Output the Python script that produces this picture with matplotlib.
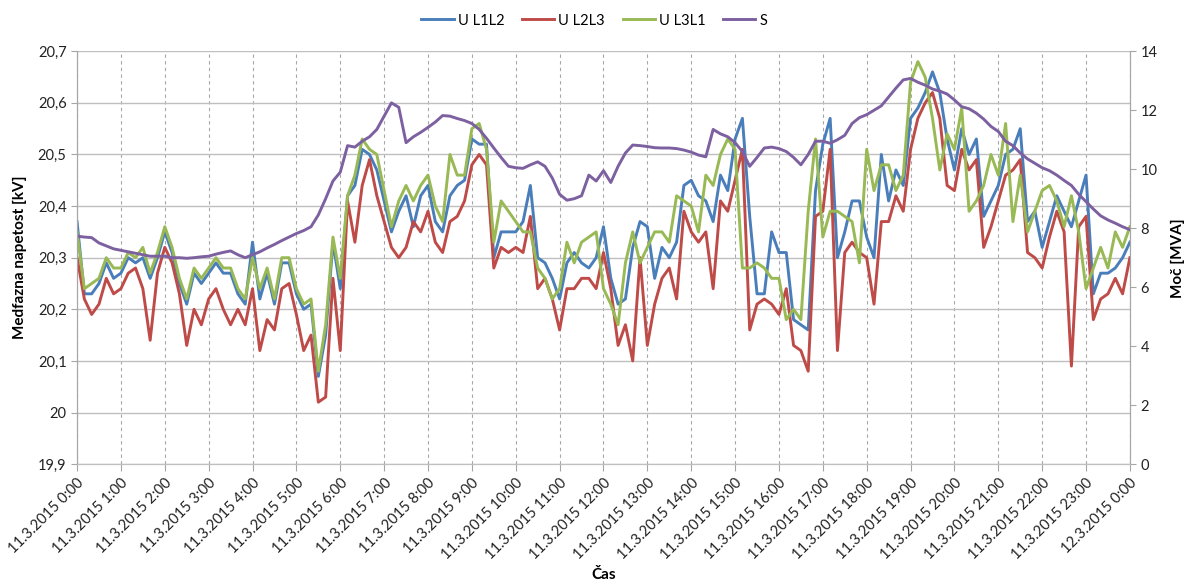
import numpy as np
import matplotlib
matplotlib.use("Agg")
import matplotlib.pyplot as plt
from matplotlib.ticker import FuncFormatter

# ---- data (10-minute samples, 11.3.2015 0:00 .. 12.3.2015 0:00) ----
u_l1l2 = [20.37, 20.23, 20.23, 20.25, 20.29, 20.26, 20.27, 20.30, 20.29, 20.30, 20.26, 20.30,
          20.35, 20.31, 20.25, 20.21, 20.27, 20.25, 20.27, 20.29, 20.27, 20.27, 20.23, 20.21,
          20.33, 20.22, 20.27, 20.21, 20.29, 20.29, 20.23, 20.20, 20.21, 20.07, 20.15, 20.33,
          20.24, 20.42, 20.44, 20.51, 20.50, 20.47, 20.41, 20.35, 20.39, 20.42, 20.36, 20.42,
          20.44, 20.37, 20.35, 20.42, 20.44, 20.45, 20.53, 20.52, 20.52, 20.30, 20.35, 20.35,
          20.35, 20.37, 20.44, 20.30, 20.29, 20.26, 20.22, 20.29, 20.31, 20.29, 20.28, 20.30,
          20.36, 20.26, 20.21, 20.22, 20.32, 20.37, 20.36, 20.26, 20.32, 20.30, 20.33, 20.44,
          20.45, 20.42, 20.41, 20.37, 20.46, 20.43, 20.53, 20.57, 20.38, 20.23, 20.23, 20.35,
          20.31, 20.31, 20.18, 20.17, 20.16, 20.43, 20.52, 20.57, 20.30, 20.35, 20.41, 20.41,
          20.34, 20.30, 20.50, 20.41, 20.47, 20.44, 20.57, 20.59, 20.62, 20.66, 20.62, 20.53,
          20.47, 20.55, 20.50, 20.53, 20.38, 20.41, 20.44, 20.50, 20.51, 20.55, 20.37, 20.39,
          20.32, 20.37, 20.42, 20.39, 20.36, 20.41, 20.46, 20.23, 20.27, 20.27, 20.28, 20.30,
          20.33]
u_l2l3 = [20.30, 20.22, 20.19, 20.21, 20.26, 20.23, 20.24, 20.27, 20.28, 20.24, 20.14, 20.27,
          20.32, 20.29, 20.23, 20.13, 20.20, 20.17, 20.22, 20.24, 20.20, 20.17, 20.20, 20.17,
          20.24, 20.12, 20.18, 20.16, 20.24, 20.25, 20.19, 20.12, 20.15, 20.02, 20.03, 20.26,
          20.12, 20.41, 20.33, 20.44, 20.49, 20.42, 20.37, 20.32, 20.30, 20.32, 20.37, 20.35,
          20.39, 20.33, 20.31, 20.37, 20.38, 20.41, 20.48, 20.50, 20.48, 20.28, 20.32, 20.31,
          20.32, 20.31, 20.38, 20.24, 20.26, 20.22, 20.16, 20.24, 20.24, 20.26, 20.26, 20.24,
          20.31, 20.24, 20.13, 20.17, 20.10, 20.30, 20.13, 20.21, 20.26, 20.28, 20.22, 20.39,
          20.35, 20.33, 20.35, 20.24, 20.41, 20.39, 20.45, 20.51, 20.16, 20.21, 20.22, 20.21,
          20.19, 20.24, 20.13, 20.12, 20.08, 20.38, 20.39, 20.51, 20.12, 20.31, 20.33, 20.31,
          20.30, 20.21, 20.37, 20.37, 20.42, 20.39, 20.51, 20.57, 20.60, 20.62, 20.57, 20.44,
          20.43, 20.51, 20.47, 20.49, 20.32, 20.36, 20.41, 20.46, 20.47, 20.49, 20.31, 20.30,
          20.28, 20.34, 20.39, 20.35, 20.09, 20.36, 20.38, 20.18, 20.22, 20.23, 20.26, 20.23,
          20.30]
u_l3l1 = [20.35, 20.24, 20.25, 20.26, 20.30, 20.28, 20.28, 20.31, 20.30, 20.32, 20.27, 20.31,
          20.36, 20.32, 20.26, 20.22, 20.28, 20.26, 20.28, 20.30, 20.28, 20.28, 20.24, 20.22,
          20.30, 20.24, 20.28, 20.22, 20.30, 20.30, 20.24, 20.21, 20.22, 20.08, 20.17, 20.34,
          20.26, 20.42, 20.46, 20.53, 20.51, 20.50, 20.43, 20.36, 20.41, 20.44, 20.41, 20.44,
          20.46, 20.40, 20.37, 20.50, 20.46, 20.46, 20.55, 20.56, 20.51, 20.33, 20.41, 20.39,
          20.37, 20.35, 20.35, 20.28, 20.26, 20.22, 20.24, 20.33, 20.29, 20.33, 20.34, 20.35,
          20.24, 20.21, 20.17, 20.29, 20.35, 20.29, 20.32, 20.35, 20.35, 20.33, 20.42, 20.41,
          20.40, 20.35, 20.46, 20.44, 20.50, 20.53, 20.51, 20.28, 20.28, 20.29, 20.28, 20.26,
          20.26, 20.18, 20.20, 20.18, 20.39, 20.53, 20.34, 20.39, 20.39, 20.38, 20.37, 20.29,
          20.51, 20.43, 20.48, 20.48, 20.43, 20.46, 20.64, 20.68, 20.65, 20.57, 20.47, 20.54,
          20.51, 20.59, 20.39, 20.41, 20.44, 20.50, 20.46, 20.56, 20.37, 20.46, 20.35, 20.39,
          20.43, 20.44, 20.41, 20.36, 20.42, 20.35, 20.24, 20.28, 20.32, 20.28, 20.35, 20.32,
          20.36]
s_mva = [7.73, 7.70, 7.68, 7.50, 7.40, 7.30, 7.25, 7.20, 7.15, 7.10, 7.05, 7.05,
         7.05, 7.00, 7.00, 6.98, 7.00, 7.03, 7.05, 7.12, 7.18, 7.23, 7.10, 7.00,
         7.10, 7.20, 7.33, 7.45, 7.58, 7.70, 7.82, 7.92, 8.05, 8.45, 9.00, 9.60,
         9.90, 10.80, 10.75, 10.95, 11.10, 11.35, 11.80, 12.25, 12.10, 10.90, 11.10, 11.25,
         11.42, 11.60, 11.82, 11.80, 11.72, 11.65, 11.55, 11.35, 11.05, 10.72, 10.40, 10.10,
         10.05, 10.03, 10.15, 10.25, 10.10, 9.70, 9.15, 8.95, 9.00, 9.10, 9.80, 9.60,
         9.95, 9.55, 10.10, 10.55, 10.82, 10.80, 10.77, 10.73, 10.72, 10.72, 10.70, 10.65,
         10.58, 10.48, 10.42, 11.35, 11.20, 11.10, 10.90, 10.60, 10.10, 10.40, 10.72, 10.75,
         10.70, 10.60, 10.40, 10.15, 10.50, 10.95, 10.95, 10.88, 11.00, 11.15, 11.55, 11.75,
         11.85, 12.00, 12.15, 12.45, 12.75, 13.03, 13.08, 12.95, 12.85, 12.72, 12.65, 12.55,
         12.35, 12.12, 12.05, 11.90, 11.70, 11.45, 11.28, 10.95, 10.80, 10.55, 10.35, 10.20,
         10.05, 9.95, 9.80, 9.62, 9.45, 9.15, 8.90, 8.65, 8.42, 8.28, 8.17, 8.05,
         7.95]
hour_labels = ["11.3.2015 %d:00" % h for h in range(24)] + ["12.3.2015 0:00"]
series_names = ["U L1L2", "U L2L3", "U L3L1", "S"]

n = len(u_l1l2)
t = np.arange(n) / 6.0  # hours

plt.rcParams['font.family'] = ['Lato', 'DejaVu Sans']
fig = plt.figure(figsize=(11.89, 5.86), dpi=100)
ax = fig.add_axes([0.0648, 0.208, 0.8855, 0.7045])
ax2 = ax.twinx()

c_blue, c_red, c_green, c_purple = "#4A7EBB", "#BE4B48", "#98B954", "#7D60A0"
lw = 2.1
l1, = ax.plot(t, u_l1l2, color=c_blue, lw=lw, label=series_names[0])
l2, = ax.plot(t, u_l2l3, color=c_red, lw=lw, label=series_names[1])
l3, = ax.plot(t, u_l3l1, color=c_green, lw=lw, label=series_names[2])
l4, = ax2.plot(t[:len(s_mva)], s_mva, color=c_purple, lw=lw, label=series_names[3])

ax.set_xlim(0, 24)
ax.set_ylim(19.9, 20.7)
ax.set_yticks(np.round(np.arange(19.9, 20.71, 0.1), 1))
ax.yaxis.set_major_formatter(FuncFormatter(lambda v, p: ("%g" % round(v, 1)).replace(".", ",")))
ax2.set_ylim(0, 14)
ax2.set_yticks(range(0, 15, 2))

ax.set_xticks(range(25))
ax.set_xticklabels(hour_labels, rotation=45, ha='right', rotation_mode='anchor', fontsize=10.5)

ax.grid(axis='y', color='#BFBFBF', lw=1.0, ls='-')
ax.grid(axis='x', color='#A6A6A6', lw=0.8, ls=(0, (3, 3)))
ax.set_axisbelow(True)

for a in (ax, ax2):
    a.spines['top'].set_visible(False)
    a.spines['left'].set_color('#A6A6A6')
    a.spines['right'].set_color('#A6A6A6')
    a.spines['bottom'].set_color('#BFBFBF')
ax.tick_params(axis='both', colors='#A6A6A6', labelcolor='#222222', labelsize=10.5, length=4)
ax2.tick_params(axis='y', colors='#A6A6A6', labelcolor='#222222', labelsize=10.5, length=4)
ax.tick_params(axis='x', length=5)

ax.set_ylabel("Medfazna napetost [kV]", fontsize=11, fontweight='bold', labelpad=8)
ax2.set_ylabel("Moč [MVA]", fontsize=11, fontweight='bold', labelpad=10)
ax.set_xlabel("Čas", fontsize=11, fontweight='bold', labelpad=4)

fig.legend(handles=[l1, l2, l3, l4], loc='center', bbox_to_anchor=(0.5, 0.965), ncol=4,
           frameon=False, fontsize=10.5, handlelength=2.2, handletextpad=0.3, columnspacing=1.2)

fig.savefig("out.png", dpi=100)
